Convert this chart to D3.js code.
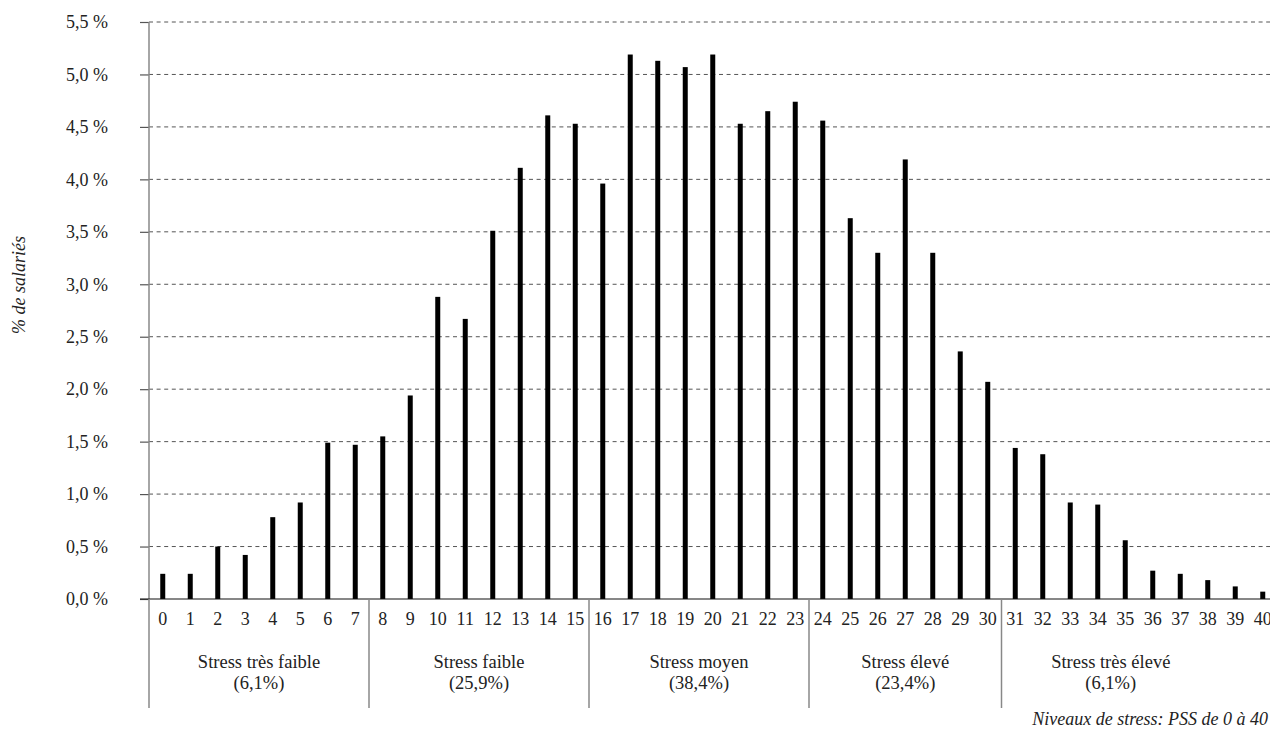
<!DOCTYPE html>
<html>
<head>
<meta charset="utf-8">
<script src="https://cdn.jsdelivr.net/npm/d3@7/dist/d3.min.js"></script>
<style>
  html, body { margin: 0; padding: 0; background: #ffffff; }
  svg text { font-family: "Liberation Serif", "Times New Roman", serif; fill: #222; }
</style>
</head>
<body>
<svg id="chart" width="1270" height="732"></svg>
<script>
// ---- data ----
const categories = ["0","1","2","3","4","5","6","7","8","9","10","11","12","13","14","15","16","17","18","19","20",
                    "21","22","23","24","25","26","27","28","29","30","31","32","33","34","35","36","37","38","39","40"];
const values = [0.24, 0.24, 0.50, 0.42, 0.78, 0.92, 1.49, 1.47, 1.55, 1.94,
                2.88, 2.67, 3.51, 4.11, 4.61, 4.53, 3.96, 5.19, 5.13, 5.07,
                5.19, 4.53, 4.65, 4.74, 4.56, 3.63, 3.30, 4.19, 3.30, 2.36,
                2.07, 1.44, 1.38, 0.92, 0.90, 0.56, 0.27, 0.24, 0.18, 0.12, 0.07];
const yTicks = [0, 0.5, 1, 1.5, 2, 2.5, 3, 3.5, 4, 4.5, 5, 5.5];
const yTickLabels = ["0,0 %","0,5 %","1,0 %","1,5 %","2,0 %","2,5 %","3,0 %","3,5 %","4,0 %","4,5 %","5,0 %","5,5 %"];
const groupNames = ["Stress très faible", "Stress faible", "Stress moyen", "Stress élevé", "Stress très élevé"];
const groupShares = ["(6,1%)", "(25,9%)", "(38,4%)", "(23,4%)", "(6,1%)"];
const groupFirst = ["0", "8", "16", "24", "31"];
const groupLast = ["7", "15", "23", "30", "40"];
const yTitle = "% de salariés";
const xNote = "Niveaux de stress: PSS de 0 à 40";

(function () {
  const W = 1270, H = 732;
  const mLeft = 149, mBottom = 599, mTop = 22;
  const step = 27.5;
  const svg = d3.select("#chart");

  const x = d3.scaleBand().domain(categories).range([mLeft, mLeft + categories.length * step]).padding(0);
  const y = d3.scaleLinear().domain([0, 5.5]).range([mBottom, mTop]);

  // gridlines
  svg.append("g").selectAll("line")
    .data(yTicks.filter(d => d > 0))
    .join("line")
    .attr("x1", mLeft).attr("x2", W)
    .attr("y1", d => y(d)).attr("y2", d => y(d))
    .attr("stroke", "#555").attr("stroke-width", 1)
    .attr("stroke-dasharray", "4,3.6");

  // bars
  const barW = 5;
  svg.append("g").selectAll("rect")
    .data(values)
    .join("rect")
    .attr("x", (d, i) => x(categories[i]) + x.bandwidth() / 2 - barW / 2)
    .attr("width", barW)
    .attr("y", d => y(d))
    .attr("height", d => y(0) - y(d))
    .attr("fill", "#000");

  // y axis
  const yAxis = d3.axisLeft(y).tickValues(yTicks)
    .tickFormat((d, i) => yTickLabels[i]).tickSize(9).tickPadding(32);
  const ga = svg.append("g").attr("transform", `translate(${mLeft},0)`).call(yAxis);
  ga.select(".domain").remove();
  ga.selectAll(".tick line").attr("stroke", "#555").attr("stroke-width", 1.2);
  ga.selectAll(".tick text").attr("font-size", 18).attr("fill", "#222")
    .style("font-family", '"Liberation Serif", serif');

  // y axis line (continues down as the first group separator)
  svg.append("line").attr("x1", mLeft).attr("x2", mLeft).attr("y1", y(5.5)).attr("y2", mBottom)
    .attr("stroke", "#888").attr("stroke-width", 1.5);

  // x axis baseline
  svg.append("line").attr("x1", mLeft - 9).attr("x2", W).attr("y1", mBottom).attr("y2", mBottom)
    .attr("stroke", "#111").attr("stroke-width", 1.2);

  // category labels
  svg.append("g").selectAll("text")
    .data(categories)
    .join("text")
    .attr("x", d => x(d) + x.bandwidth() / 2)
    .attr("y", 625)
    .attr("text-anchor", "middle")
    .attr("font-size", 18)
    .text(d => d);

  // group separators and labels
  const sepEnd = 708;
  groupFirst.forEach((g, i) => {
    const x0 = x(g);
    const x1 = x(groupLast[i]) + x.bandwidth();
    svg.append("line").attr("x1", x0).attr("x2", x0).attr("y1", mBottom).attr("y2", sepEnd)
      .attr("stroke", "#888").attr("stroke-width", 1.5);
    const cx = (x0 + Math.min(x1, W - 50)) / 2;
    svg.append("text").attr("x", cx).attr("y", 668).attr("text-anchor", "middle")
      .attr("font-size", 18.5).text(groupNames[i]);
    svg.append("text").attr("x", cx).attr("y", 689).attr("text-anchor", "middle")
      .attr("font-size", 18.5).text(groupShares[i]);
  });

  // y title
  svg.append("text")
    .attr("transform", `translate(25,285) rotate(-90)`)
    .attr("text-anchor", "middle")
    .attr("font-size", 18).attr("font-style", "italic")
    .text(yTitle);

  // note
  svg.append("text").attr("x", 1268).attr("y", 725).attr("text-anchor", "end")
    .attr("font-size", 18).attr("font-style", "italic").text(xNote);
})();
</script>
</body>
</html>
